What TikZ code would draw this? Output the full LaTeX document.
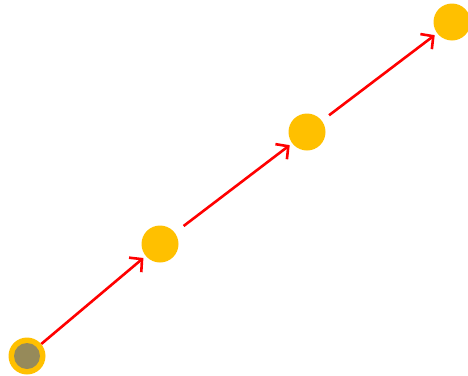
\documentclass[tikz,border=0pt]{standalone}
\usetikzlibrary{arrows.meta}
\definecolor{gold}{RGB}{255,192,0}
\definecolor{olive2}{RGB}{150,138,90}
\begin{document}
\begin{tikzpicture}[x=1pt,y=-1pt,
  dot/.style={circle,fill=gold,minimum size=37pt,inner sep=0pt,draw=none},
  conn/.style={red,line width=2.6pt,-{Straight Barb[length=9pt,width=19pt,line width=2.6pt]}}]
\useasboundingbox (0,0) rectangle (468,375);
\node[dot] (a) at (27,356) {};
\node[circle,fill=olive2,minimum size=26pt,inner sep=0pt] (ai) at (27,356) {};
\node[dot] (b) at (160,244) {};
\node[dot] (c) at (307,132) {};
\node[dot] (d) at (452,22) {};
\draw[conn,shorten >=3pt] (a) -- (b);
\draw[conn,shorten <=11pt,shorten >=3pt] (b) -- (c);
\draw[conn,shorten <=9pt,shorten >=3pt] (c) -- (d);
\end{tikzpicture}
\end{document}
